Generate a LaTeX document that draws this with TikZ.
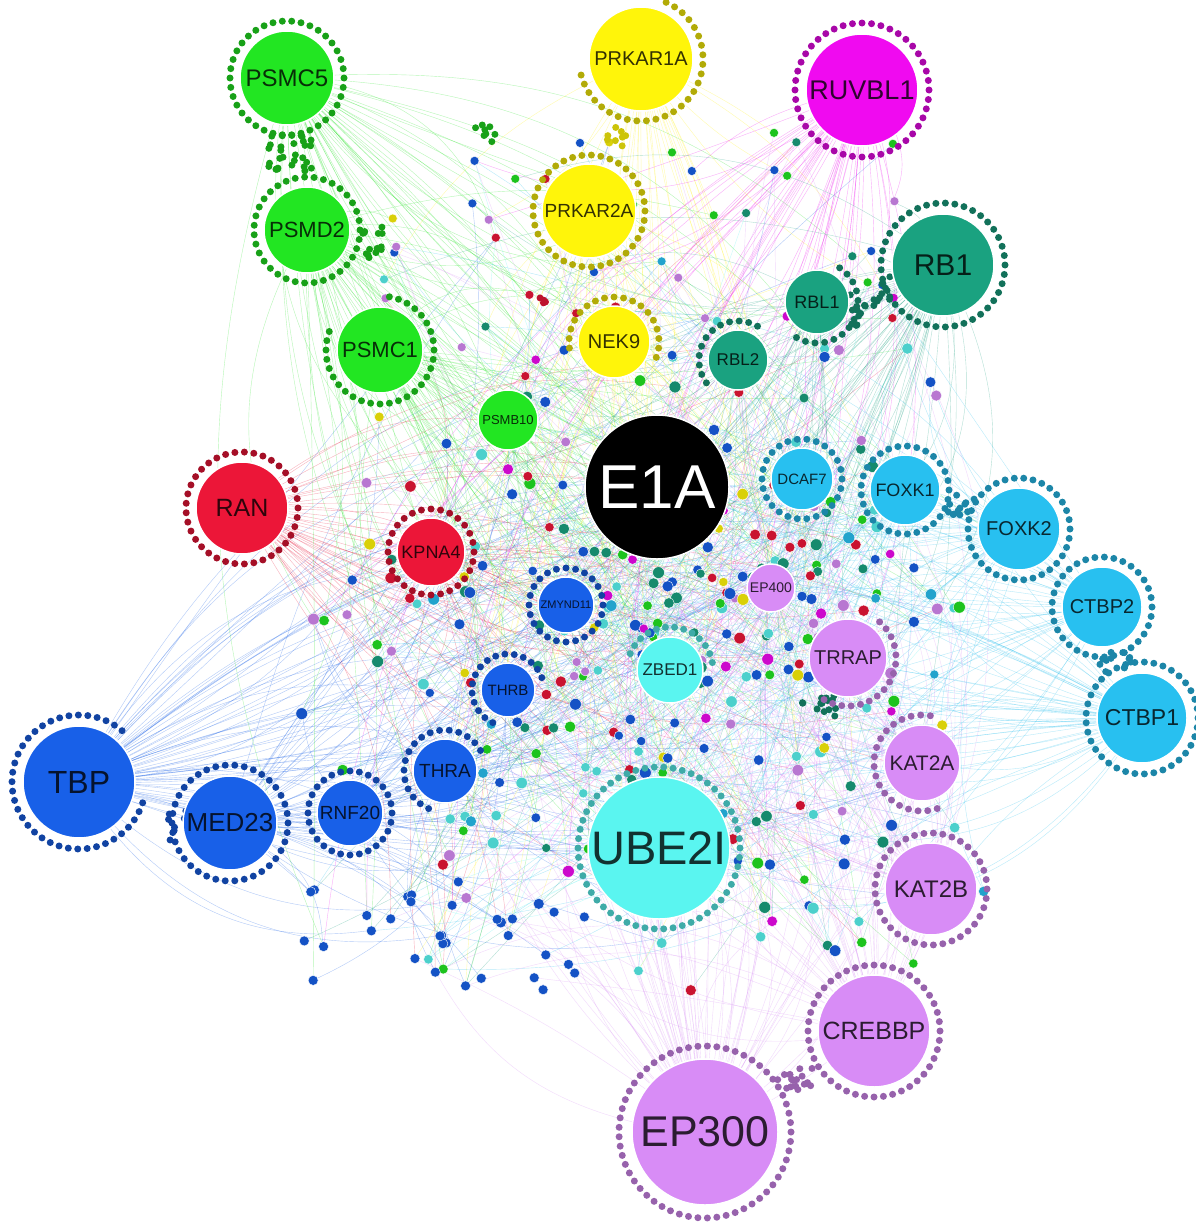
\documentclass[tikz,border=0pt]{standalone}
\usepackage{fontspec}
\setmainfont{Liberation Sans}
\usepackage{xcolor}
\usetikzlibrary{backgrounds}

\definecolor{hblue}{RGB}{24,96,232}
\definecolor{hred}{RGB}{236,22,56}
\definecolor{hgreen}{RGB}{34,230,34}
\definecolor{hyellow}{RGB}{255,245,10}
\definecolor{hmagenta}{RGB}{240,10,240}
\definecolor{hteal}{RGB}{26,162,128}
\definecolor{hsky}{RGB}{40,192,240}
\definecolor{hviolet}{RGB}{216,140,246}
\definecolor{hcyan}{RGB}{90,245,240}

\tikzset{
	hub/.style={circle,inner sep=0pt,draw=white,line width=1.5pt},
	prot/.style={circle,inner sep=0pt,draw=white,line width=0.4pt},
	link/.style={line width=0.4pt,draw opacity=0.33},
}

% ring of interactors round a hub: x, y, radius, from angle, to angle, colour
\newcommand{\satring}[6]{%
	\pgfmathtruncatemacro\nsat{max(3,round(((#5)-(#4))/360*6.283*(#3)/9.5))}%
	\pgfmathsetmacro\astep{((#5)-(#4))/\nsat}%
	\foreach \jj in {1,...,\nsat}{
		\pgfmathsetmacro\ang{(#4)+\jj*\astep}
		\pgfmathsetmacro\sx{#1+(#3)*cos(\ang)}
		\pgfmathsetmacro\sy{#2+(#3)*sin(\ang)}
		\fill[fill=#6] (\sx,\sy) circle (3.5pt);
	}%
}
% small clump of interactors
\newcommand{\clump}[6]{%
	\foreach \jj in {1,...,#5}{
		\pgfmathsetmacro\sx{#1+#3*rand}
		\pgfmathsetmacro\sy{#2+#4*rand}
		\fill[fill=#6] (\sx,\sy) circle (3.5pt);
	}%
}

\begin{document}
\begin{tikzpicture}[x=1pt,y=-1pt]
	\useasboundingbox (0,0) rectangle (1196,1226);
	\pgfmathsetseed{11}
	% scattered interactors
	\def\pcols{{"hblue","hblue","hblue","hblue","hblue","hteal","hteal","hteal","hviolet","hviolet","hviolet","hgreen","hgreen","hred","hred","hyellow","hcyan","hcyan","hsky","hmagenta"}}
	\foreach \i in {1,...,330}{
		\pgfmathsetmacro\px{660+185*(rand+rand)}
		\pgfmathsetmacro\py{650+185*(rand+rand)}
		\pgfmathrandominteger{\kc}{0}{19}
		\pgfmathsetmacro\cc{\pcols[\kc]}
		\pgfmathsetmacro\sz{9+3*rnd}
		\node[prot,fill=\cc!85!black,minimum size=\sz pt] (d\i) at (\px,\py) {};
	}
	\foreach \i in {331,...,370}{
		\pgfmathsetmacro\px{640+260*rand}
		\pgfmathsetmacro\py{230+100*rand}
		\pgfmathrandominteger{\kc}{0}{19}
		\pgfmathsetmacro\cc{\pcols[\kc]}
		\node[prot,fill=\cc!85!black,minimum size=9pt] (d\i) at (\px,\py) {};
	}
	\foreach \i in {371,...,400}{
		\pgfmathsetmacro\px{450+150*rand}
		\pgfmathsetmacro\py{930+60*rand}
		\node[prot,fill=hblue!85!black,minimum size=10pt] (d\i) at (\px,\py) {};
	}
	% clumps
	\clump{290}{152}{22}{20}{30}{hgreen!70!black}
	\clump{372}{240}{12}{20}{14}{hgreen!70!black}
	\clump{483}{132}{12}{10}{8}{hgreen!70!black}
	\clump{615}{137}{12}{10}{8}{hyellow!80!black}
	\clump{880}{290}{10}{18}{10}{hteal!70!black}
	\clump{858}{312}{10}{18}{10}{hteal!70!black}
	\clump{962}{505}{14}{10}{12}{hsky!70!black}
	\clump{1115}{662}{16}{10}{12}{hsky!70!black}
	\clump{795}{1080}{18}{14}{18}{hviolet!70!black}
	\clump{820}{705}{20}{12}{14}{hteal!70!black}
	\clump{178}{830}{10}{20}{8}{hblue!70!black}
	\clump{545}{300}{6}{6}{4}{hred!80!black}
	% hubs
	\foreach \hname/\hx/\hy/\hr/\hcol/\hfs/\ringr/\ringa/\ringb in {
		PSMC5/287/78/47/hgreen/24/57/0/360,
		PSMD2/307/230/43/hgreen/22/53/0/360,
		PSMC1/380/350/43/hgreen/22/54/-90/200,
		PSMB10/508/420/30/hgreen/13/0/0/0,
		PRKAR1A/641/59/52/hyellow/20/62/-75/165,
		PRKAR2A/589/211/47/hyellow/19/56/0/360,
		NEK9/614/342/36/hyellow/20/45/160/380,
		RUVBL1/862/90/56/hmagenta/27/67/0/360,
		RB1/943/265/51/hteal/30/62/0/360,
		RBL1/817/302/32/hteal/18/41/-70/120,
		RBL2/738/360/30/hteal/17/39/130/300,
		RAN/242/508/46/hred/25/56/0/360,
		KPNA4/431/552/34/hred/18/43/0/360,
		DCAF7/802/479/31/hsky/15/40/0/360,
		FOXK1/905/490/35/hsky/18/44/0/360,
		FOXK2/1019/529/41/hsky/20/51/0/360,
		CTBP2/1102/607/40/hsky/20/50/0/360,
		CTBP1/1142/718/45/hsky/23/56/0/360,
		EP400/771/588/24/hviolet/14/0/0/0,
		TRRAP/848/658/39/hviolet/20/48/-60/120,
		KAT2A/922/763/38/hviolet/21/48/60/280,
		KAT2B/931/889/46/hviolet/24/56/0/360,
		CREBBP/874/1031/56/hviolet/25/66/0/360,
		EP300/705/1132/73/hviolet/43/86/0/360,
		ZBED1/670/670/33/hcyan/17/43/190/350,
		UBE2I/659/848/71/hcyan/47/81/0/360,
		ZMYND11/566/605/28/hblue/11/37/0/360,
		THRB/508/690/27/hblue/15/36/100/340,
		THRA/445/771/32/hblue/19/41/100/330,
		RNF20/350/813/33/hblue/19/42/0/360,
		MED23/230/823/47/hblue/26/58/0/360,
		TBP/79/782/56/hblue/32/67/10/310}{
		\ifnum\ringr>0 \satring{\hx}{\hy}{\ringr}{\ringa}{\ringb}{\hcol!70!black}\fi
		\pgfmathsetmacro\hd{2*\hr}
		\node[hub,fill=\hcol,text=\hcol!20!black,minimum size=\hd pt,font=\fontsize{\hfs}{\hfs}\selectfont] (\hname) at (\hx,\hy) {\hname};
	}
	\node[hub,fill=black,text=white,minimum size=144pt,font=\fontsize{62}{62}\selectfont] (E1A) at (657,487) {E1A};
	% interactions
	\begin{pgfonlayer}{background}
		\fill[white] (0,0) rectangle (1196,1226);
		\foreach \hname/\hcol/\m in {TBP/hblue/70, MED23/hblue/40, RNF20/hblue/25, THRA/hblue/25, THRB/hblue/15, ZMYND11/hblue/15, RAN/hred/45, KPNA4/hred/25, PSMC5/hgreen/50, PSMD2/hgreen/45, PSMC1/hgreen/35, PSMB10/hgreen/15, PRKAR1A/hyellow/30, PRKAR2A/hyellow/25, NEK9/hyellow/15, RUVBL1/hmagenta/50, RB1/hteal/60, RBL1/hteal/25, RBL2/hteal/20, DCAF7/hsky/20, FOXK1/hsky/30, FOXK2/hsky/35, CTBP2/hsky/35, CTBP1/hsky/50, EP400/hviolet/15, TRRAP/hviolet/25, KAT2A/hviolet/30, KAT2B/hviolet/35, CREBBP/hviolet/45, EP300/hviolet/70, ZBED1/hcyan/15, UBE2I/hcyan/50}{
			\draw[link,draw=\hcol] (\hname) to[bend left=10] (E1A);
			\foreach \jj in {1,...,\m}{
				\pgfmathrandominteger{\tg}{1}{400}
				\pgfmathrandominteger{\bb}{-30}{30}
				\draw[link,draw=\hcol] (\hname) to[bend left=\bb] (d\tg);
			}
		}
	\end{pgfonlayer}
\end{tikzpicture}
\end{document}
